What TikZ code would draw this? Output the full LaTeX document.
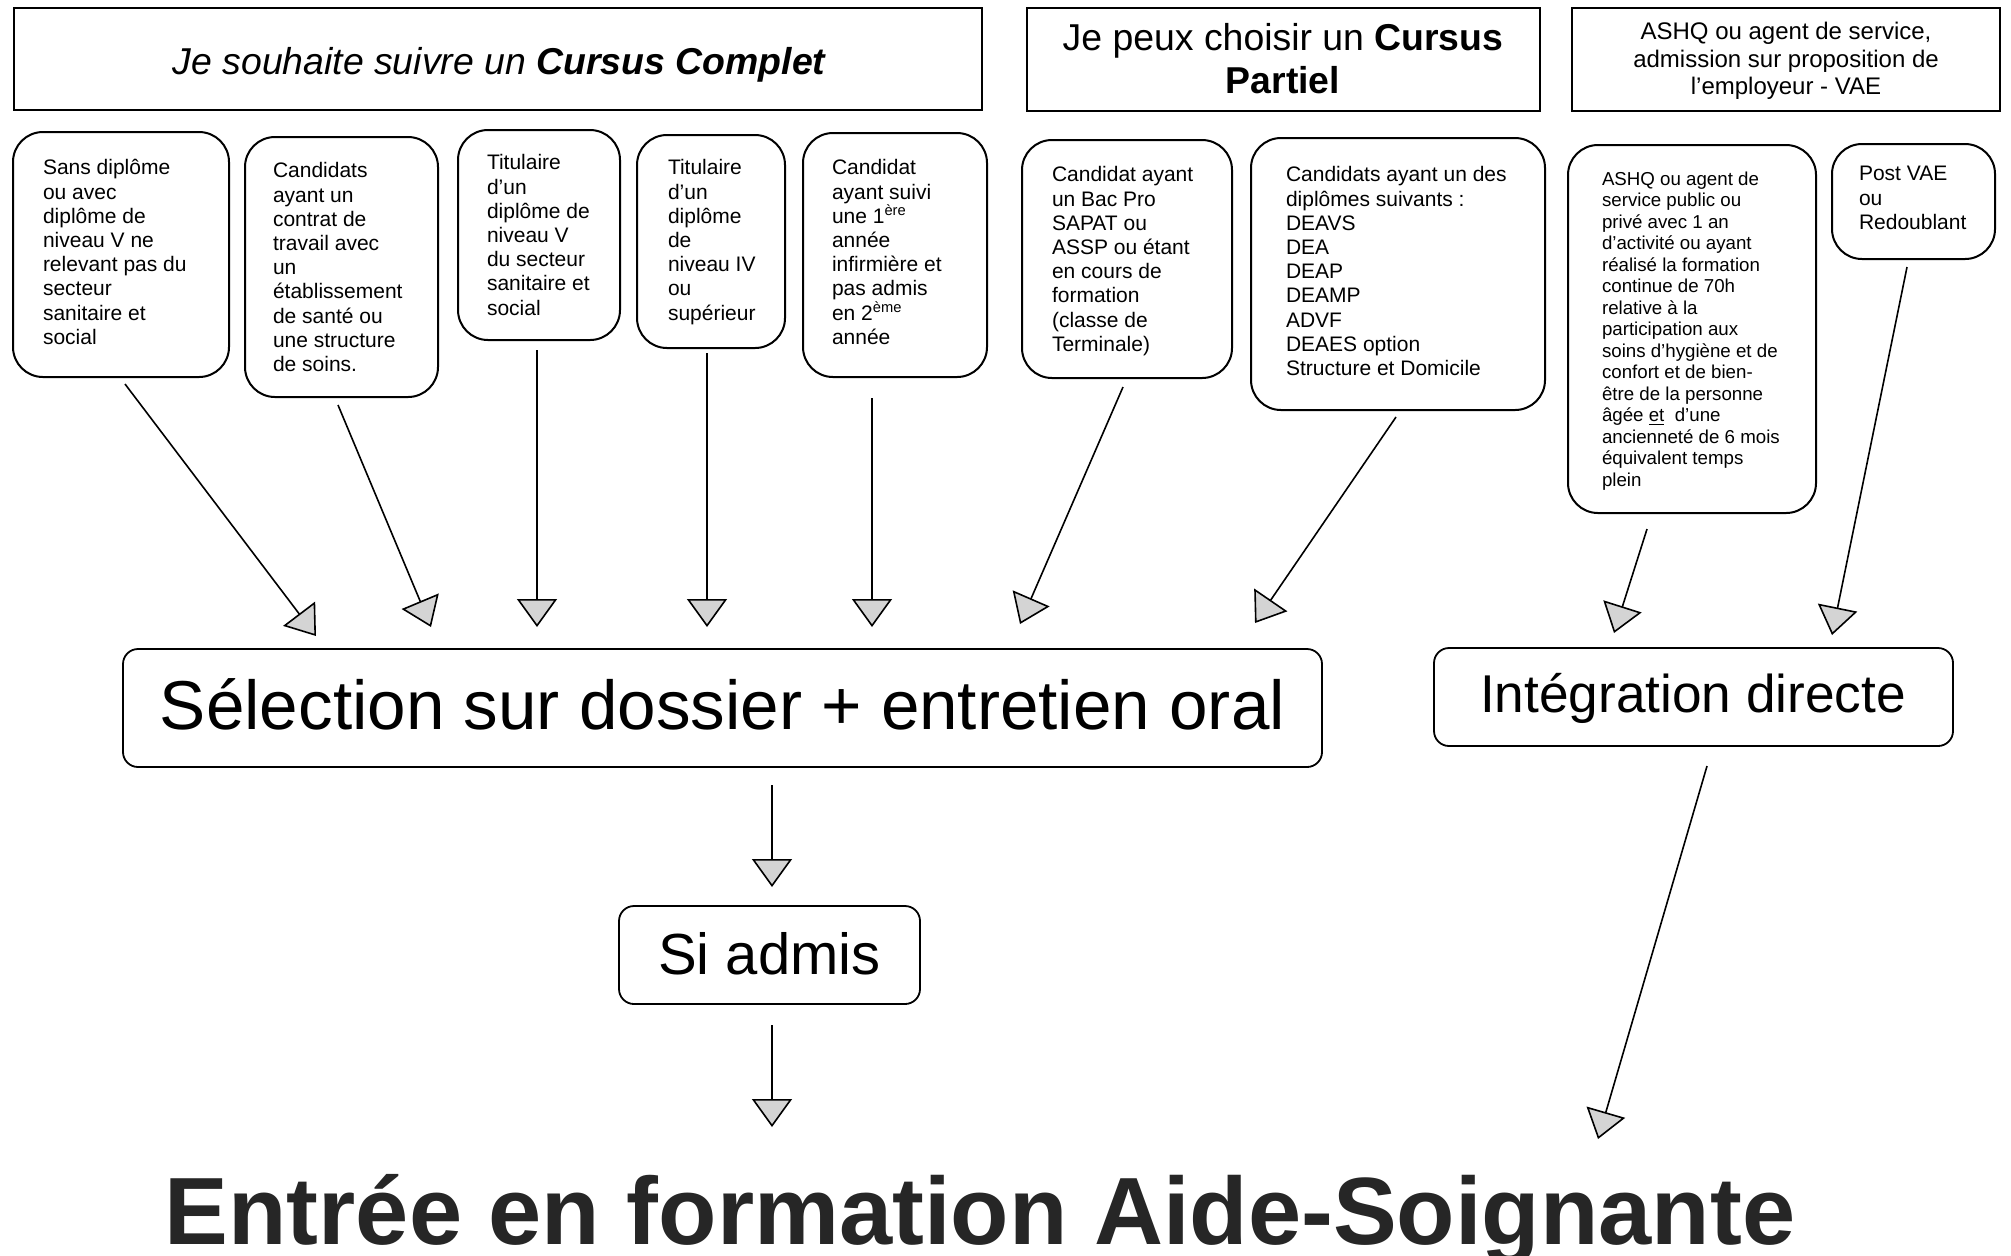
\documentclass[tikz,border=0pt]{standalone}
\usepackage{fontspec}
\setmainfont{Liberation Sans}
\usetikzlibrary{arrows.meta}
\definecolor{arrowfill}{HTML}{D4D4D4}
\definecolor{titlegray}{HTML}{262626}
\newcommand\fbody{\fontsize{10.5pt}{12.1pt}\selectfont}
\newcommand\fsmall{\fontsize{9.35pt}{10.75pt}\selectfont}
\newcommand\fhead{\fontsize{18.7pt}{21.5pt}\selectfont}
\newcommand\fheadsm{\fontsize{12pt}{13.75pt}\selectfont}
\newcommand\mybox[6]{\node[#1,anchor=north west,minimum width={(#5-#3)*0.5pt},minimum height={(#6-#4)*0.5pt}] (#2) at (#3,#4) {};}
\begin{document}
\begin{tikzpicture}[x=0.5pt,y=-0.5pt,
  headbox/.style={draw,line width=0.75pt,inner sep=0pt,outer sep=0pt},
  roundbox/.style={draw,line width=1pt,rounded corners=15pt,inner sep=0pt,outer sep=0pt},
  flatbox/.style={draw,line width=0.9pt,rounded corners=7.5pt,inner sep=0pt,outer sep=0pt},
  txt/.style={anchor=north west,inner sep=0pt,outer sep=0pt,align=left,font=\fbody},
  smalltxt/.style={txt,font=\fsmall},
  bigtxt/.style={anchor=base,inner sep=0pt,outer sep=0pt},
  arr/.style={line width=0.8pt,-{Triangle[length=14pt,width=20pt,fill=arrowfill]}},
]
\useasboundingbox (0,0) rectangle (2011,1255);

% header boxes
\mybox{headbox}{h1}{14}{8}{982}{110}
\mybox{headbox}{h2}{1027}{8}{1540}{111}
\mybox{headbox}{h3}{1572}{8}{2000}{111}
\node[bigtxt,font=\fhead] (h1t) at (499,74) {\itshape Je souhaite suivre un \textbf{Cursus Complet}};
\node[anchor=north,inner sep=0pt,align=center,font=\fhead] (h2t) at (1283,20) {\strut Je peux choisir un \textbf{Cursus}\\\textbf{Partiel}};
\node[anchor=north,inner sep=0pt,align=center,font=\fheadsm] (h3t) at (1786,20) {\strut ASHQ ou agent de service,\\admission sur proposition de\\l’employeur - VAE};

% candidate boxes
\mybox{roundbox}{b1}{13}{132}{229}{377}
\mybox{roundbox}{b2}{245}{137}{438}{397}
\mybox{roundbox}{b3}{458}{130}{620}{340}
\mybox{roundbox}{b4}{637}{135}{785}{348}
\mybox{roundbox}{b5}{803}{133}{987}{377}
\mybox{roundbox}{b6}{1022}{140}{1232}{378}
\mybox{roundbox}{b7}{1251}{138}{1545}{410}
\mybox{roundbox}{b8}{1568}{145}{1816}{513}
\mybox{roundbox}{b9}{1832}{144}{1995}{259}

\node[txt] (t1) at (43,158) {\strut Sans diplôme\\ou avec\\diplôme de\\niveau V ne\\relevant pas du\\secteur\\sanitaire et\\social};
\node[txt] (t2) at (273,161) {\strut Candidats\\ayant un\\contrat de\\travail avec\\un\\établissement\\de santé ou\\une structure\\de soins.};
\node[txt] (t3) at (487,153) {\strut Titulaire\\d’un\\diplôme de\\niveau V\\du secteur\\sanitaire et\\social};
\node[txt] (t4) at (668,158) {\strut Titulaire\\d’un\\diplôme\\de\\niveau IV\\ou\\supérieur};
\node[txt] (t5) at (832,158) {\strut Candidat\\ayant suivi\\une 1\textsuperscript{ère}\\année\\infirmière et\\pas admis\\en 2\textsuperscript{ème}\\année};
\node[txt] (t6) at (1052,165) {\strut Candidat ayant\\un Bac Pro\\SAPAT ou\\ASSP ou étant\\en cours de\\formation\\(classe de\\Terminale)};
\node[txt] (t7) at (1286,165) {\strut Candidats ayant un des\\diplômes suivants :\\DEAVS\\DEA\\DEAP\\DEAMP\\ADVF\\DEAES option\\Structure et Domicile};
\node[smalltxt] (t8) at (1602,170) {\strut ASHQ ou agent de\\service public ou\\privé avec 1 an\\d’activité ou ayant\\réalisé la formation\\continue de 70h\\relative à la\\participation aux\\soins d’hygiène et de\\confort et de bien-\\être de la personne\\âgée \underline{et}\ \ d’une\\ancienneté de 6 mois\\équivalent temps\\plein};
\node[txt] (t9) at (1859,164) {\strut Post VAE\\ou\\Redoublant};

% process boxes
\mybox{flatbox}{sel}{123}{649}{1322}{767}
\mybox{flatbox}{integ}{1434}{648}{1953}{746}
\mybox{flatbox}{admis}{619}{906}{920}{1004}
\node[bigtxt,font=\fontsize{34.6pt}{40pt}\selectfont] (selt) at (722.5,729) {Sélection sur dossier + entretien oral};
\node[bigtxt,font=\fontsize{26.6pt}{31pt}\selectfont] (integt) at (1693,712) {Intégration directe};
\node[bigtxt,font=\fontsize{29pt}{34pt}\selectfont] (admist) at (769.5,974) {Si admis};
\node[bigtxt,font=\fontsize{47.8pt}{55pt}\selectfont\bfseries,text=titlegray] (entree) at (980,1244) {Entrée en formation Aide-Soignante};

% connector end points
\coordinate (s1) at (125,384);  \coordinate (e1) at (316,636);
\coordinate (s2) at (338,405);  \coordinate (e2) at (431,627);
\coordinate (s3) at (537,350);  \coordinate (e3) at (537,627);
\coordinate (s4) at (707,353);  \coordinate (e4) at (707,627);
\coordinate (s5) at (872,398);  \coordinate (e5) at (872,627);
\coordinate (s6) at (1123,387); \coordinate (e6) at (1020,624);
\coordinate (s7) at (1396,417); \coordinate (e7) at (1255,623);
\coordinate (s8) at (1647,529); \coordinate (e8) at (1614,633);
\coordinate (s9) at (1907,267); \coordinate (e9) at (1832,635);
\coordinate (s10) at (772,785); \coordinate (e10) at (772,887);
\coordinate (s11) at (772,1025); \coordinate (e11) at (772,1127);
\coordinate (s12) at (1707,766); \coordinate (e12) at (1598,1139);

\foreach \i in {1,...,12} {\draw[arr] (s\i) -- (e\i);}
\end{tikzpicture}
\end{document}
